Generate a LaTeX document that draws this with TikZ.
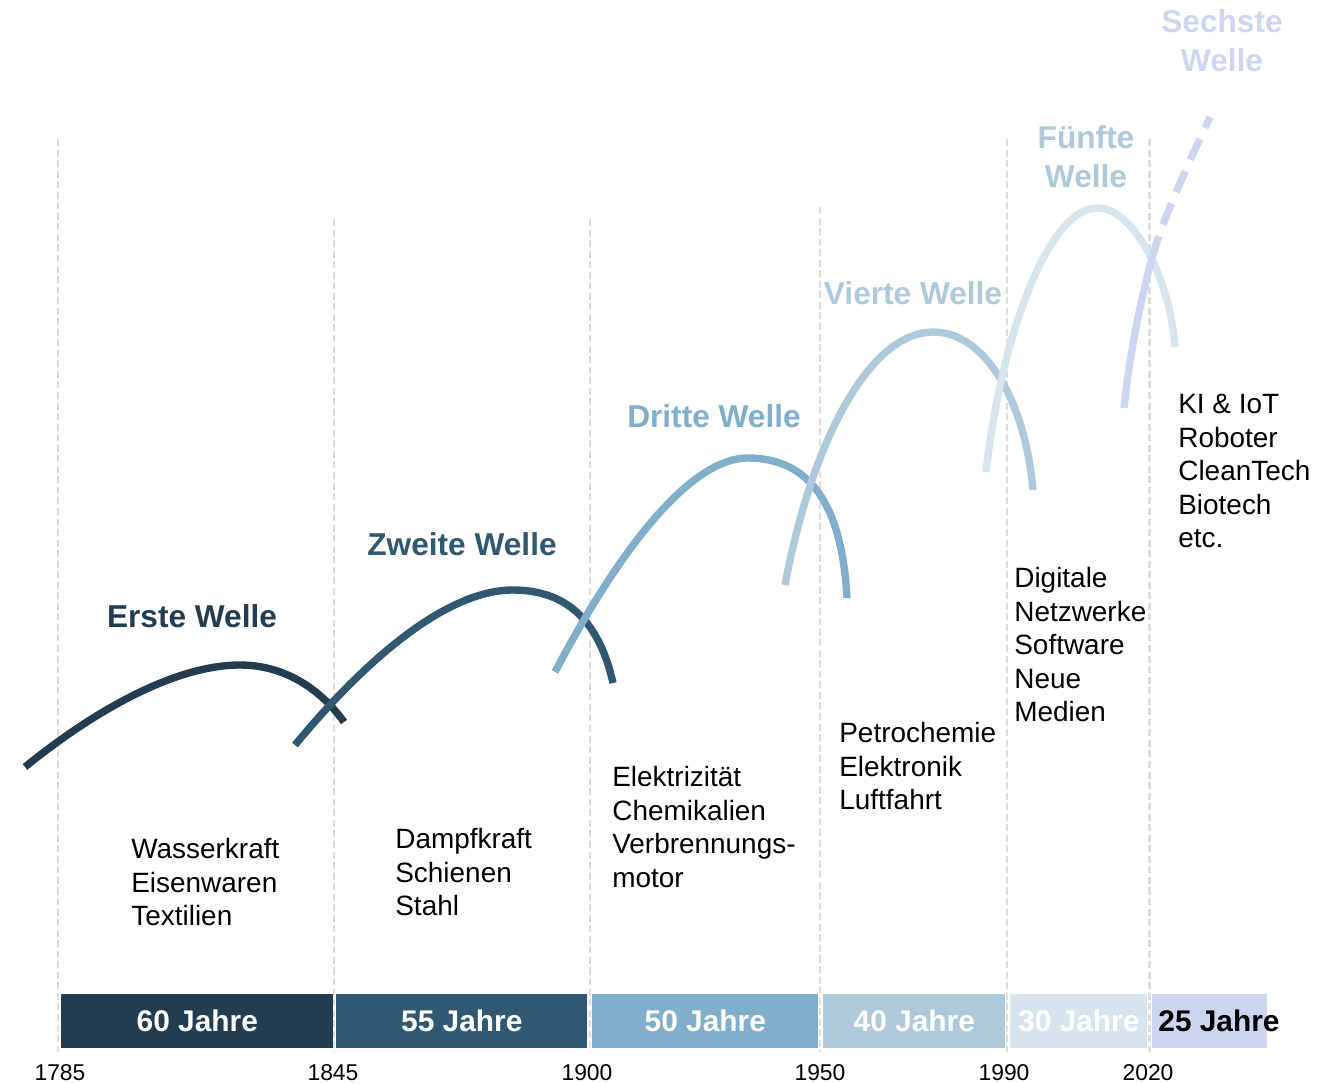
\documentclass[tikz,border=0pt]{standalone}
\usepackage{fontspec}
\setmainfont{Liberation Sans}
\definecolor{wone}{HTML}{233C50}
\definecolor{wtwo}{HTML}{305870}
\definecolor{wthree}{HTML}{80AECB}
\definecolor{wfour}{HTML}{ADC9DA}
\definecolor{wfive}{HTML}{D7E5EE}
\definecolor{wsix}{HTML}{CCD6F0}
\definecolor{gridgray}{HTML}{DDDDDD}
\begin{document}
\begin{tikzpicture}[x=0.02cm, y=-0.02cm,
    wave/.style={line width=4.2pt},
    title/.style={font=\fontsize{18}{22}\selectfont\bfseries, align=center, inner sep=0pt},
    desc/.style={font=\fontsize{15.9}{19.1}\selectfont, align=left, anchor=north west, inner sep=0pt},
    bar/.style={minimum height=1.08cm, inner sep=0pt, anchor=west, text=white, font=\fontsize{17}{20}\selectfont\bfseries},
    year/.style={font=\fontsize{13}{15}\selectfont, inner sep=0pt},
    era/.style={gridgray, line width=1.2pt, dash pattern=on 4pt off 2pt}]
  \useasboundingbox (0,0) rectangle (1340,1083);

  % era lines
  \draw[era] (58,139) -- (58,1052);
  \foreach \x/\top in {334/219, 590/219, 820/207, 1007/139, 1149.5/139}
    \draw[era] (\x,\top) -- (\x,1052);

  % bars
  \node[bar, fill=wone, minimum width=5.44cm] (b60) at (61,1021) {60 Jahre};
  \node[bar, fill=wtwo, minimum width=5.02cm] (b55) at (336,1021) {55 Jahre};
  \node[bar, fill=wthree, minimum width=4.52cm] (b50) at (592,1021) {50 Jahre};
  \node[bar, fill=wfour, minimum width=3.64cm] (b40) at (823,1021) {40 Jahre};
  \node[bar, fill=wfive, minimum width=2.74cm] (b30) at (1010,1021) {30 Jahre};
  \node[bar, fill=wsix, minimum width=2.3cm] (b25) at (1152,1021) {};
  \node[bar, anchor=center, text=black] (j25) at (1219,1021) {25 Jahre};

  % years
  \node[year] (y1785) at (60,1073) {1785};
  \node[year] (y1845) at (333,1073) {1845};
  \node[year] (y1900) at (587,1073) {1900};
  \node[year] (y1950) at (820,1073) {1950};
  \node[year] (y1990) at (1004,1073) {1990};
  \node[year] (y2020) at (1148,1073) {2020};

  % waves
  \draw[wave, wone] (25,767) .. controls (85,718) and (170,665) .. (240,665)
    .. controls (290,665) and (325,695) .. (344,722);
  \draw[wave, wtwo] (295,745) .. controls (356,671) and (441,590) .. (513,590)
    .. controls (570,590) and (600,625) .. (613,683);
  \draw[wave, wthree] (555,672) .. controls (609,569) and (684,458) .. (748,458)
    .. controls (810,458) and (842,505) .. (847,598);
  \draw[wave, wfour] (785,585) .. controls (812,440) and (870,332) .. (933,332)
    .. controls (985,332) and (1025,400) .. (1033,490);
  \draw[wave, wfive] (986,472) .. controls (1002,330) and (1050,208) .. (1097,208)
    .. controls (1135,208) and (1170,280) .. (1175,347);
  \draw[wave, wsix] (1124,408) .. controls (1130,350) and (1142,295) .. (1152,258);
  \draw[wave, wsix, dash pattern=on 13pt off 7pt] (1152,258) .. controls (1163,218) and (1190,160) .. (1210,117);

  % titles
  \node[title, text=wone] (t1) at (192,616) {Erste Welle};
  \node[title, text=wtwo] (t2) at (462,544) {Zweite Welle};
  \node[title, text=wthree] (t3) at (714,416) {Dritte Welle};
  \node[title, text=wfour] (t4) at (913,293) {Vierte Welle};
  \node[title, text=wfour] (t5) at (1086,157) {Fünfte\\Welle};
  \node[title, text=wsix] (t6) at (1222,41) {Sechste\\Welle};

  % branches
  \node[desc] (d1) at (131,838) {Wasserkraft\\Eisenwaren\\Textilien};
  \node[desc] (d2) at (395,828) {Dampfkraft\\Schienen\\Stahl};
  \node[desc] (d3) at (612,766) {Elektrizität\\Chemikalien\\Verbrennungs-\\motor};
  \node[desc] (d4) at (839,722) {Petrochemie\\Elektronik\\Luftfahrt};
  \node[desc] (d5) at (1014,567) {Digitale\\Netzwerke\\Software\\Neue\\Medien};
  \node[desc] (d6) at (1178,394) {KI \& IoT\\Roboter\\CleanTech\\Biotech\\etc.};
\end{tikzpicture}
\end{document}
